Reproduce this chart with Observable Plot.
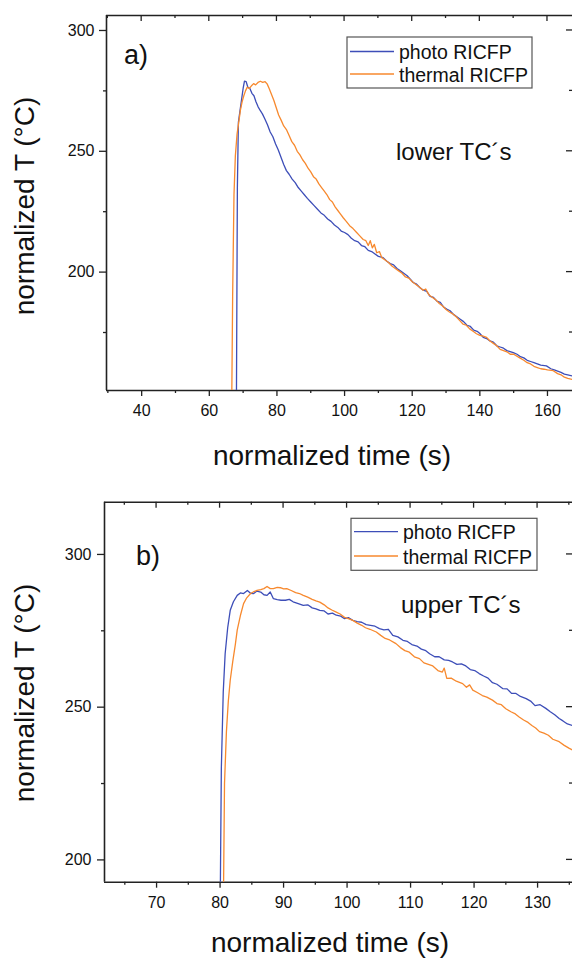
<!DOCTYPE html>
<html>
<head>
<meta charset="utf-8">
<script src="https://cdn.jsdelivr.net/npm/d3@7"></script>
<script src="https://cdn.jsdelivr.net/npm/@observablehq/plot@0.6"></script>
<style>
  html, body { margin: 0; padding: 0; background: #fff; }
  #chart > svg { display: block; }
</style>
</head>
<body>
<div id="chart"></div>
<script>
// ---------- Data ----------
const seriesNames = ["photo RICFP", "thermal RICFP"];
const panelLabels = ["a)", "b)"];
const panelNotes = ["lower TC´s", "upper TC´s"];
const xTitle = "normalized time (s)";
const yTitle = "normalized T (°C)";

// Panel a) lower thermocouples
const aXMajor = [40, 60, 80, 100, 120, 140, 160];
const aXMinor = [30, 50, 70, 90, 110, 130, 150];
const aYMajor = [200, 250, 300];
const aYMinor = [175, 225, 275];

const aPhotoT = [68.0, 68.3, 68.6, 69.0, 69.5, 70.0, 70.4, 70.9, 71.4, 72.0, 72.6, 73.2, 73.8, 74.4, 75.0, 75.7, 76.4, 77.2, 78.0, 78.8, 79.6, 80.4, 81.2, 82.0, 82.8, 83.6, 84.5, 85.4, 86.3, 87.2, 88.1, 89.0, 90.0, 91.0, 92.0, 93.0, 94.0, 95.0, 96.0, 97.0, 98.0, 99.0, 100.0, 101.0, 102.0, 103.0, 104.0, 105.0, 106.0, 107.0, 108.0, 109.0, 110.0, 111.4, 112.5, 113.5, 114.5, 115.5, 116.5, 117.5, 118.5, 119.5, 120.3, 121.3, 122.3, 123.3, 124.3, 125.3, 126.3, 127.3, 128.3, 129.3, 130.2, 131.2, 132.2, 133.2, 134.2, 135.2, 136.2, 137.2, 138.2, 139.2, 140.0, 141.0, 142.0, 143.0, 144.0, 145.0, 146.0, 147.0, 148.0, 149.9, 151.0, 152.0, 153.0, 154.0, 155.0, 156.0, 157.0, 158.0, 159.7, 161.0, 162.0, 163.0, 164.0, 165.0, 166.0, 167.5];
const aPhotoV = [140, 235, 262, 266, 271, 276, 279, 278.8, 276.5, 276, 274, 273, 270.5, 268.5, 267, 265.5, 263.5, 261, 258, 256, 253, 250.5, 247.5, 244.5, 242, 240.5, 238.5, 237, 235, 233.5, 232, 230.5, 229, 227.5, 226, 224.5, 223.5, 222, 221, 219.5, 218.5, 217, 216.4, 215.5, 214, 213, 212.5, 211, 210.5, 209, 208.5, 207.5, 206.5, 206, 204.5, 203.5, 203, 201.5, 200.5, 199.5, 198.5, 197, 195.7, 195, 193.5, 192.5, 192, 190, 189.5, 188, 187.5, 185.5, 184.7, 184, 182.5, 181.5, 180.5, 179.5, 178, 177.5, 176, 175.5, 174.6, 173, 172.5, 171.5, 171, 169.5, 169, 168.5, 167.5, 166.7, 166, 165, 164.5, 163.5, 163, 162.5, 162, 161.5, 161.2, 160, 159.5, 159, 158.5, 157.8, 157.5, 157];

const aThermT = [66.6, 66.9, 67.3, 67.7, 68.2, 68.7, 69.2, 69.7, 70.2, 70.7, 71.2, 71.8, 72.4, 73.1, 73.7, 74.4, 75.1, 75.8, 76.5, 77.1, 77.7, 78.4, 79.1, 79.8, 80.5, 81.2, 82.0, 82.8, 83.6, 84.4, 85.2, 86.0, 86.8, 87.6, 88.4, 89.2, 90.0, 90.8, 91.6, 92.4, 93.2, 94.0, 94.8, 95.6, 96.4, 97.2, 98.0, 98.8, 99.6, 100.5, 101.5, 102.5, 103.5, 104.5, 105.5, 106.3, 107.0, 107.6, 108.2, 108.8, 109.5, 110.3, 111.0, 112.0, 113.0, 114.0, 115.0, 116.0, 117.0, 118.0, 119.0, 120.0, 121.0, 122.2, 123.2, 124.0, 125.0, 126.0, 127.0, 128.0, 129.0, 130.0, 131.0, 132.1, 133.0, 134.0, 135.0, 136.0, 137.0, 138.0, 139.0, 140.0, 141.0, 142.0, 143.0, 144.0, 145.0, 146.0, 147.0, 148.0, 149.0, 150.0, 151.8, 153.0, 154.0, 155.0, 156.0, 157.0, 158.0, 159.0, 160.0, 161.7, 163.0, 164.0, 165.0, 166.0, 167.5];
const aThermV = [140, 190, 232, 248, 257, 262, 267, 270.5, 273, 275, 276.5, 276, 277, 278, 277.5, 278.5, 279, 278.5, 278.8, 277.9, 276, 273.5, 271, 268, 265, 263, 260.5, 259, 256.5, 254, 252.5, 250, 248.5, 246.5, 245, 243, 241.5, 239.5, 238.5, 236.5, 235, 233.5, 232, 230, 229, 227, 225.5, 224, 222.5, 221, 219.2, 218, 216.5, 215, 213.5, 213, 211, 213, 210, 211.5, 208, 208.5, 206, 205, 204, 202.5, 201.5, 200.5, 199.5, 198, 197.5, 196, 195, 193.7, 192.5, 193, 190.5, 189.5, 188.5, 187, 186, 184.5, 183.5, 182.6, 181.5, 180, 178.5, 178, 176.5, 175.5, 174.5, 173.8, 173.5, 173, 171.5, 170.5, 169.5, 168, 167.5, 167, 166, 166, 164.5, 163.5, 162.5, 162, 161, 160.5, 160, 159.8, 159.5, 159.2, 158, 157.5, 156.5, 156, 155.5];

// Panel b) upper thermocouples
const bXMajor = [70, 80, 90, 100, 110, 120, 130];
const bXMinor = [65, 75, 85, 95, 105, 115, 125, 135];
const bYMajor = [200, 250, 300];
const bYMinor = [225, 275];

const bPhotoT = [80.0, 80.2, 80.5, 80.8, 81.2, 81.6, 82.1, 82.7, 83.2, 83.7, 84.3, 84.8, 85.3, 85.8, 86.4, 86.9, 87.4, 87.9, 88.4, 89.0, 89.6, 90.3, 90.9, 91.5, 92.2, 93.1, 93.8, 94.5, 95.1, 95.7, 96.4, 97.0, 97.7, 98.3, 99.0, 99.6, 100.2, 100.9, 101.6, 102.3, 103.0, 103.7, 104.4, 105.1, 105.8, 106.5, 107.2, 108.0, 108.8, 109.5, 110.2, 111.0, 111.7, 112.4, 113.0, 113.8, 114.5, 115.3, 116.0, 116.6, 117.3, 118.0, 118.7, 119.4, 120.1, 120.8, 121.5, 122.2, 122.9, 123.6, 124.5, 125.2, 125.9, 126.6, 127.3, 128.2, 128.9, 129.6, 130.4, 131.3, 132.0, 132.7, 133.4, 134.0, 134.7, 135.5];
const bPhotoV = [180, 230, 255, 267.5, 276, 281.7, 284.5, 286.6, 287.4, 287.2, 288.2, 287.3, 287.2, 288, 287.7, 286.8, 286.6, 287.7, 285.5, 285.2, 285, 285, 285.3, 284.5, 284, 283.3, 283.5, 282.5, 282.2, 281.7, 281.5, 280.5, 280.8, 280.1, 279.8, 279, 279.3, 278.4, 278, 277.8, 277, 276.8, 276.5, 275.7, 275.3, 275.5, 273.5, 273, 271.9, 271.5, 270.5, 270, 269, 268.5, 267.5, 266.5, 266.5, 265.5, 265.3, 264.8, 264, 264.2, 263.5, 262.3, 262, 261, 260.2, 259.5, 258, 257.5, 256.1, 256, 254.5, 254.5, 253.5, 252.8, 252, 250.5, 250.8, 249.6, 248.5, 247.5, 246.3, 245.5, 244.5, 244];

const bThermT = [80.5, 80.7, 81.0, 81.3, 81.6, 82.0, 82.4, 82.7, 83.2, 83.7, 84.2, 84.8, 85.3, 85.8, 86.4, 86.9, 87.4, 87.9, 88.4, 89.0, 89.5, 90.0, 90.5, 91.2, 91.9, 92.5, 93.1, 93.8, 94.5, 95.1, 95.7, 96.4, 97.0, 97.6, 98.3, 98.9, 99.6, 100.2, 100.9, 101.6, 102.3, 102.9, 103.6, 104.6, 105.3, 106.0, 106.7, 107.7, 108.4, 109.1, 109.8, 110.6, 111.4, 112.1, 112.8, 113.5, 114.3, 115.0, 115.3, 115.7, 116.4, 117.2, 118.2, 118.8, 119.3, 119.8, 120.5, 121.3, 122.0, 122.9, 123.6, 124.3, 125.0, 125.8, 126.5, 127.1, 127.8, 128.5, 129.1, 129.7, 130.3, 131.0, 131.7, 132.4, 133.4, 134.2, 135.0, 135.5];
const bThermV = [180, 225, 242, 252, 258.8, 265, 270.5, 275.2, 280, 283.9, 285.8, 287.2, 287.8, 288.2, 288.5, 288.8, 289.5, 288.8, 288.8, 289.2, 289.1, 288.7, 288.8, 288.2, 287.5, 287.2, 286.6, 286, 285.3, 284.8, 284.4, 283.5, 282.5, 281.8, 281.1, 280.5, 279.4, 279, 278.4, 277.5, 276.8, 276, 275.5, 274.6, 273.5, 272.5, 272, 270.8, 269.5, 268.5, 268, 266.5, 265.9, 264.5, 264, 263.5, 262, 261.5, 262.8, 259.4, 259.5, 258.5, 257.7, 256.5, 257.3, 255.6, 254.8, 253.8, 253.3, 252.3, 251.2, 250.8, 249.5, 248.5, 247.8, 246.8, 245.8, 245, 244, 243.2, 242, 241.5, 240.8, 239.5, 238.7, 237.5, 236.5, 236];

// ---------- Styling ----------
const BLUE = "#3d4eb8";
const ORANGE = "#f7892e";
const AXIS = "#222";
const FONT = "'Liberation Sans', Arial, Helvetica, sans-serif";

function rows(ts, vs) { return ts.map((t, i) => ({t, v: vs[i]})); }

function panel(cfg) {
  const [x0, x1] = cfg.xDomain, [y0, y1] = cfg.yDomain;
  const svg = Plot.plot({
    width: 572,
    height: cfg.height,
    marginLeft: cfg.marginLeft,
    marginRight: 0,
    marginTop: cfg.marginTop,
    marginBottom: cfg.marginBottom,
    style: {fontFamily: FONT, fontSize: "16px", color: "#111", background: "#fff"},
    x: {domain: cfg.xDomain},
    y: {domain: cfg.yDomain},
    marks: [
      // bottom axis
      Plot.axisX({ticks: cfg.xMajor, tickSize: 6, tickPadding: 8, strokeWidth: 1.3, stroke: AXIS, label: null}),
      Plot.axisX({ticks: cfg.xMinor, tickSize: 3, strokeWidth: 1.3, stroke: AXIS, fill: "none", label: null}),
      // left axis
      Plot.axisY({ticks: cfg.yMajor, tickSize: 7, tickPadding: cfg.yPad, strokeWidth: 1.3, stroke: AXIS, label: null}),
      Plot.axisY({ticks: cfg.yMinor, tickSize: 3, strokeWidth: 1.3, stroke: AXIS, fill: "none", label: null}),
      // frame lines
      Plot.ruleX([x0], {stroke: AXIS, strokeWidth: 1.6}),
      Plot.ruleY([y0], {stroke: AXIS, strokeWidth: 1.6}),
      Plot.ruleY([y1], {stroke: AXIS, strokeWidth: 1.6}),
      // data
      Plot.line(rows(cfg.photoT, cfg.photoV), {x: "t", y: "v", stroke: BLUE, strokeWidth: 1.3, clip: true}),
      Plot.line(rows(cfg.thermT, cfg.thermV), {x: "t", y: "v", stroke: ORANGE, strokeWidth: 1.3, clip: true})
    ]
  });

  const s = d3.select(svg);
  const sx = svg.scale("x"), sy = svg.scale("y");
  const top = sy.apply(y1), right = sx.apply(x1);

  // inward ticks on top and right edges
  const tg = s.append("g").attr("stroke", AXIS).attr("stroke-width", 1.3);
  cfg.xMajor.forEach(v => tg.append("line").attr("x1", sx.apply(v)).attr("x2", sx.apply(v)).attr("y1", top).attr("y2", top + 6));
  cfg.xMinor.forEach(v => tg.append("line").attr("x1", sx.apply(v)).attr("x2", sx.apply(v)).attr("y1", top).attr("y2", top + 3));
  cfg.yMajor.forEach(v => tg.append("line").attr("y1", sy.apply(v)).attr("y2", sy.apply(v)).attr("x1", right).attr("x2", right - 6));
  cfg.yMinor.forEach(v => tg.append("line").attr("y1", sy.apply(v)).attr("y2", sy.apply(v)).attr("x1", right).attr("x2", right - 3));

  // axis titles
  s.append("text").attr("x", cfg.xTitleX).attr("y", cfg.xTitleY)
    .attr("text-anchor", "middle").attr("font-size", 28).attr("fill", "#111").text(xTitle);
  s.append("text").attr("transform", `translate(${cfg.yTitleX},${cfg.yTitleY}) rotate(-90)`)
    .attr("text-anchor", "middle").attr("font-size", 28).attr("fill", "#111").text(yTitle);
  // panel label and note
  s.append("text").attr("x", cfg.labelX).attr("y", cfg.labelY).attr("text-anchor", "start")
    .attr("font-size", 27).attr("fill", "#111").text(cfg.label);
  s.append("text").attr("x", cfg.noteX).attr("y", cfg.noteY).attr("text-anchor", "start")
    .attr("font-size", 24).attr("fill", "#111").text(cfg.note);
  // legend
  const L = cfg.legend;
  const g = s.append("g");
  g.append("rect").attr("x", L.x).attr("y", L.y).attr("width", L.w).attr("height", L.h)
    .attr("fill", "#fff").attr("stroke", "#555").attr("stroke-width", 1.2);
  [[BLUE, seriesNames[0], L.row1], [ORANGE, seriesNames[1], L.row2]].forEach(([c, name, ry]) => {
    g.append("line").attr("x1", L.x + 3).attr("x2", L.x + 47).attr("y1", ry).attr("y2", ry)
      .attr("stroke", c).attr("stroke-width", 1.3);
    g.append("text").attr("x", L.x + 52).attr("y", ry + 7.5).attr("text-anchor", "start")
      .attr("font-size", 19.5).attr("fill", "#111").text(name);
  });
  return svg;
}

const chart = document.getElementById("chart");

chart.appendChild(panel({
  height: 480, marginLeft: 106, marginTop: 15, marginBottom: 90, yPad: 5,
  xDomain: [29.6, 167.4], yDomain: [151, 306.2],
  xMajor: aXMajor, xMinor: aXMinor, yMajor: aYMajor, yMinor: aYMinor,
  photoT: aPhotoT, photoV: aPhotoV, thermT: aThermT, thermV: aThermV,
  xTitleX: 332, xTitleY: 465, yTitleX: 34, yTitleY: 206,
  label: panelLabels[0], labelX: 124, labelY: 64,
  note: panelNotes[0], noteX: 396, noteY: 160,
  legend: {x: 347, y: 37, w: 185, h: 51, row1: 51.5, row2: 74}
}));

chart.appendChild(panel({
  height: 479, marginLeft: 104, marginTop: 21.7, marginBottom: 77.3, yPad: 6,
  xDomain: [61.8, 135.5], yDomain: [192.7, 317.1],
  xMajor: bXMajor, xMinor: bXMinor, yMajor: bYMajor, yMinor: bYMinor,
  photoT: bPhotoT, photoV: bPhotoV, thermT: bThermT, thermV: bThermV,
  xTitleX: 330, xTitleY: 472, yTitleX: 34, yTitleY: 213,
  label: panelLabels[1], labelX: 136, labelY: 85,
  note: panelNotes[1], noteX: 401, noteY: 133,
  legend: {x: 351, y: 38.3, w: 186, h: 52, row1: 51.7, row2: 76}
}));
</script>
</body>
</html>
